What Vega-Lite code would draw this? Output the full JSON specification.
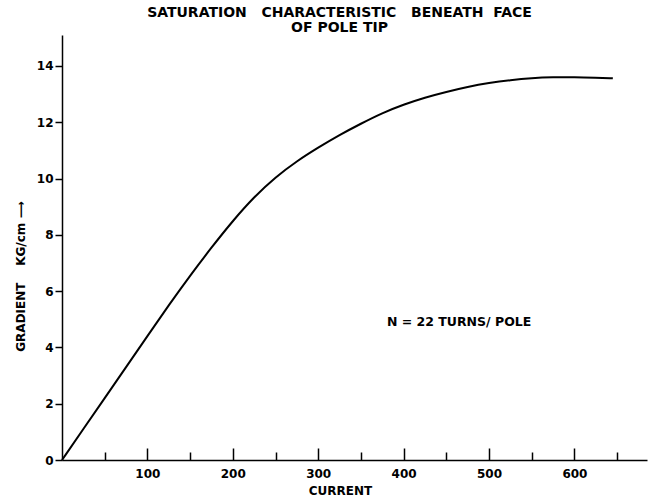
{
  "$schema": "https://vega.github.io/schema/vega-lite/v6.json",
  "width": 585,
  "height": 425,
  "autosize": {"type": "none"},
  "padding": {"left": 62, "top": 35, "right": 3, "bottom": 41},
  "background": "white",
  "title": {
    "text": ["SATURATION\u00a0\u00a0\u00a0CHARACTERISTIC\u00a0\u00a0\u00a0BENEATH\u00a0\u00a0FACE", "OF POLE TIP"],
    "anchor": "middle",
    "dx": -15,
    "offset": 0,
    "font": "DejaVu Sans",
    "fontSize": 14,
    "fontWeight": "bold",
    "color": "black",
    "lineHeight": 15
  },
  "config": {
    "view": {"stroke": null},
    "axis": {
      "domainColor": "black",
      "domainWidth": 1.5,
      "tickColor": "black",
      "tickWidth": 1.5,
      "labelFont": "DejaVu Sans",
      "labelFontWeight": "bold",
      "labelFontSize": 12,
      "labelColor": "black",
      "titleFont": "DejaVu Sans",
      "titleFontWeight": "bold",
      "titleFontSize": 12,
      "titleColor": "black",
      "grid": false
    }
  },
  "datasets": {
    "curve": [
      {"current": 0, "gradient": 0},
      {"current": 25, "gradient": 1.1},
      {"current": 50, "gradient": 2.2},
      {"current": 75, "gradient": 3.3},
      {"current": 100, "gradient": 4.4},
      {"current": 125, "gradient": 5.5},
      {"current": 150, "gradient": 6.55},
      {"current": 175, "gradient": 7.55},
      {"current": 200, "gradient": 8.5},
      {"current": 225, "gradient": 9.35},
      {"current": 250, "gradient": 10.05},
      {"current": 275, "gradient": 10.62},
      {"current": 300, "gradient": 11.1},
      {"current": 325, "gradient": 11.55},
      {"current": 350, "gradient": 11.95},
      {"current": 375, "gradient": 12.33},
      {"current": 400, "gradient": 12.63},
      {"current": 425, "gradient": 12.88},
      {"current": 450, "gradient": 13.08},
      {"current": 475, "gradient": 13.26},
      {"current": 500, "gradient": 13.4},
      {"current": 525, "gradient": 13.5},
      {"current": 550, "gradient": 13.57},
      {"current": 575, "gradient": 13.6},
      {"current": 600, "gradient": 13.6},
      {"current": 625, "gradient": 13.58},
      {"current": 645, "gradient": 13.56}
    ],
    "note": [
      {"current": 465, "gradient": 4.9, "label": "N = 22 TURNS/ POLE"}
    ]
  },
  "layer": [
    {
      "data": {"name": "curve"},
      "mark": {"type": "line", "color": "black", "strokeWidth": 2, "interpolate": "basis"},
      "encoding": {
        "x": {
          "field": "current",
          "type": "quantitative",
          "scale": {"domain": [0, 685], "nice": false},
          "axis": {
            "title": "CURRENT",
            "values": [50, 100, 150, 200, 250, 300, 350, 400, 450, 500, 550, 600, 650],
            "labelExpr": "datum.value % 100 === 0 ? datum.label : ''",
            "tickSize": {"condition": {"test": "datum.value % 100 === 0", "value": -12}, "value": -8},
            "labelPadding": 20,
            "titleX": 278,
            "titleY": 30,
            "titleBaseline": "middle",
            "titleAlign": "center"
          }
        },
        "y": {
          "field": "gradient",
          "type": "quantitative",
          "scale": {"domain": [0, 15.1], "nice": false},
          "axis": {
            "title": "GRADIENT\u00a0\u00a0\u00a0\u00a0KG/cm\u00a0⟶",
            "values": [0, 2, 4, 6, 8, 10, 12, 14],
            "tickSize": 7,
            "labelPadding": 2,
            "titleX": -42,
            "titleY": 241,
            "titleAlign": "center",
            "titleBaseline": "middle",
            "titleAngle": -90
          }
        }
      }
    },
    {
      "data": {"name": "note"},
      "mark": {"type": "text", "font": "DejaVu Sans", "fontWeight": "bold", "fontSize": 12.5, "color": "black"},
      "encoding": {
        "x": {"field": "current", "type": "quantitative"},
        "y": {"field": "gradient", "type": "quantitative"},
        "text": {"field": "label"}
      }
    }
  ]
}
